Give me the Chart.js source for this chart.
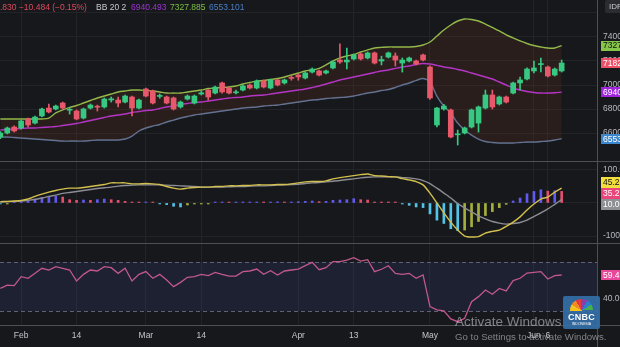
<!DOCTYPE html>
<html>
<head>
<meta charset="utf-8">
<script src="https://cdn.jsdelivr.net/npm/chart.js@4.4.1/dist/chart.umd.min.js"></script>
<style>
  html, body { margin: 0; padding: 0; background: #17181c; overflow: hidden; width: 620px; height: 347px; }
  #wrap { position: relative; width: 620px; height: 347px; overflow: hidden; font-family: "Liberation Sans", Arial, sans-serif; }
  canvas { position: absolute; left: 0; }
  .sep { position: absolute; background: #4e4f54; }
  .hdr { position: absolute; top: 2px; font-size: 8.5px; line-height: 10px; white-space: nowrap; }
  .wm1 { position: absolute; left: 455px; top: 314px; font-size: 13.5px; color: rgba(215,215,220,0.55); white-space: nowrap; }
  .wm2 { position: absolute; left: 455px; top: 331px; font-size: 9.6px; color: rgba(215,215,220,0.55); white-space: nowrap; }
  #logo { position: absolute; left: 563px; top: 296px; width: 37px; height: 33px; background: rgba(52,112,170,0.9); border-radius: 2px; overflow: hidden; }
  #logo .pea { position: absolute; left: 7px; top: 3px; width: 23px; height: 23px; border-radius: 50%;
    background: conic-gradient(from -90deg, #f6c21c 0deg 30deg, #f08a24 30deg 60deg, #e23b3b 60deg 90deg, #8a3fa8 90deg 120deg, #2b7fd1 120deg 150deg, #48b04a 150deg 180deg, transparent 180deg); }
  #logo .t1 { position: absolute; left: 0; width: 37px; top: 16px; text-align: center; font-weight: bold; font-size: 9px; color: #fff; letter-spacing: 0.2px; }
  #logo .t2 { position: absolute; left: 0; width: 37px; top: 26px; text-align: center; font-size: 3.5px; color: #fff; }
  #idbox { position: absolute; left: 605px; top: 0px; width: 24px; height: 13px; background: #2b2c31; border-radius: 2px; color: #c9cad0; font-size: 8px; line-height: 13px; padding-left: 4px; }
</style>
</head>
<body>
<div id="wrap">
  <canvas id="cMain" width="680" height="161" style="top:0px"></canvas>
  <canvas id="cMacd" width="680" height="81" style="top:162px"></canvas>
  <canvas id="cRsi" width="680" height="103" style="top:244px"></canvas>

  <div class="sep" style="left:0;top:161px;width:620px;height:1px"></div>
  <div class="sep" style="left:0;top:243px;width:620px;height:1px"></div>
  <div class="sep" style="left:0;top:325px;width:620px;height:1px"></div>
  <div class="sep" style="left:597px;top:0;width:1px;height:347px"></div>

  <div class="hdr" id="hClose" style="color:#dc4a5c"></div>
  <div class="hdr" style="left:96px;color:#c8c9cc">BB 20 2</div>
  <div class="hdr" id="hBasis" style="left:131px;color:#9d33cf"></div>
  <div class="hdr" id="hUpper" style="left:170px;color:#7dbf44"></div>
  <div class="hdr" id="hLower" style="left:209px;color:#4b7fc6"></div>
  <div id="idbox">IDR</div>

  <div id="logo"><div class="pea"></div><div class="t1">CNBC</div><div class="t2">INDONESIA</div></div>
  <div class="wm1">Activate Windows</div>
  <div class="wm2">Go to Settings to activate Windows.</div>
</div>

<script>
// ---- Trading sessions ----
const dates = [
  '2022-01-27','2022-01-28','2022-01-31',
  '2022-02-02','2022-02-03','2022-02-04','2022-02-07','2022-02-08','2022-02-09','2022-02-10','2022-02-11',
  '2022-02-14','2022-02-15','2022-02-16','2022-02-17','2022-02-18','2022-02-21','2022-02-22','2022-02-23','2022-02-24','2022-02-25',
  '2022-03-01','2022-03-02','2022-03-04','2022-03-07','2022-03-08','2022-03-09','2022-03-10','2022-03-11',
  '2022-03-14','2022-03-15','2022-03-16','2022-03-17','2022-03-18','2022-03-21','2022-03-22','2022-03-23','2022-03-24','2022-03-25',
  '2022-03-28','2022-03-29','2022-03-30','2022-03-31',
  '2022-04-01','2022-04-04','2022-04-05','2022-04-06','2022-04-07','2022-04-08','2022-04-11','2022-04-12','2022-04-13','2022-04-14',
  '2022-04-18','2022-04-19','2022-04-20','2022-04-21','2022-04-22','2022-04-25','2022-04-26','2022-04-27','2022-04-28',
  '2022-05-09','2022-05-10','2022-05-11','2022-05-12','2022-05-13','2022-05-17','2022-05-18','2022-05-19','2022-05-20',
  '2022-05-23','2022-05-24','2022-05-25','2022-05-27','2022-05-30','2022-05-31',
  '2022-06-02','2022-06-03','2022-06-06','2022-06-07','2022-06-08'
];

// ---- Price candles ----
const openPx  = [6567,6600,6650,6642,6717,6683,6742,6808,6800,6850,6790,6783,6725,6808,6820,6817,6875,6875,6858,6900,6808,
                 6967,6950,6905,6900,6892,6817,6883,6850,6925,6958,6933,7017,6975,6935,6958,7000,6975,7033,6975,7042,7017,7060,
                 7083,7058,7108,7117,7100,7142,7208,7192,7217,7258,7225,7267,7200,7233,7242,7183,7200,7200,7250,
                 7150,6667,6800,6792,6585,6600,6650,6683,6808,6917,6842,6900,6933,7017,7050,7117,7170,7150,7083,7117];
const highPx  = [6612,6650,6660,6708,6725,6742,6808,6842,6833,6858,6808,6792,6808,6842,6833,6892,6900,6900,6917,6908,6883,
                 6975,6958,6925,6908,6900,6867,6917,6917,6950,6962,6992,7025,6983,6958,7000,7008,7042,7042,7050,7050,7050,7075,
                 7092,7108,7142,7125,7125,7200,7342,7308,7258,7267,7275,7275,7240,7275,7267,7225,7233,7208,7258,
                 7160,6815,6840,6800,6625,6650,6800,6825,6958,6958,6908,6908,7025,7067,7142,7200,7225,7158,7142,7208];
const lowPx   = [6552,6592,6608,6633,6650,6675,6735,6767,6792,6800,6758,6710,6717,6800,6783,6808,6858,6817,6850,6742,6800,
                 6900,6842,6890,6842,6792,6808,6875,6842,6917,6875,6925,6933,6925,6925,6950,6967,6967,6975,6967,6992,7008,7040,
                 7040,7050,7100,7075,7092,7133,7180,7133,7208,7208,7217,7175,7167,7225,7158,7108,7192,7167,7200,
                 6880,6650,6790,6560,6500,6592,6642,6608,6800,6800,6833,6850,6925,6958,7042,7100,7108,7067,7075,7108];
const closePx = [6600,6642,6617,6700,6667,6733,6800,6775,6825,6808,6795,6717,6800,6833,6815,6883,6885,6850,6908,6808,6875,
                 6908,6850,6912,6850,6800,6858,6908,6908,6935,6900,6983,6942,6933,6942,6992,6975,7033,6983,7042,7000,7042,7055,
                 7067,7100,7133,7083,7117,7192,7192,7208,7250,7217,7267,7183,7212,7267,7208,7208,7225,7175,7208,
                 6892,6808,6825,6567,6590,6642,6792,6817,6917,6817,6900,6858,7017,7042,7133,7142,7175,7075,7133,7182.83];

// ---- Bollinger Bands (20, 2) ----
const bbUpper = [6717,6717,6717,6717,6717,6717,6717,6725,6767,6792,6813,6829,6850,6871,6892,6908,6925,6942,6950,6958,6958,
                 6954,6950,6942,6933,6933,6933,6942,6950,6958,6971,6975,6979,6983,6992,7008,7021,7033,7038,7046,7054,7067,7083,
                 7100,7117,7125,7138,7167,7200,7225,7242,7254,7275,7292,7308,7313,7317,7317,7317,7317,7321,7333,
                 7358,7408,7458,7500,7533,7550,7546,7533,7508,7479,7450,7417,7392,7367,7346,7329,7317,7308,7308,7327.885];
const bbBasis = [6625,6629,6633,6638,6642,6642,6646,6650,6654,6663,6671,6679,6692,6704,6717,6729,6742,6750,6758,6771,6779,
                 6788,6792,6804,6817,6825,6838,6846,6854,6858,6867,6875,6883,6892,6896,6900,6908,6913,6917,6925,6933,6942,6950,
                 6958,6967,6979,6992,7008,7025,7042,7054,7067,7079,7092,7104,7117,7125,7138,7150,7158,7171,7179,
                 7175,7163,7150,7142,7129,7117,7100,7083,7067,7050,7025,7000,6975,6958,6946,6938,6933,6933,6935,6940.493];
const bbLower = [6567,6567,6563,6558,6554,6550,6546,6542,6538,6533,6533,6533,6533,6538,6542,6542,6542,6542,6550,6575,6617,
                 6642,6658,6671,6692,6708,6725,6738,6750,6758,6767,6775,6783,6792,6800,6808,6813,6817,6825,6829,6833,6842,6850,
                 6858,6867,6875,6879,6888,6892,6896,6900,6908,6921,6933,6942,6954,6963,6979,7000,7017,7038,7054,
                 7025,6908,6825,6767,6683,6625,6583,6550,6529,6521,6517,6517,6517,6521,6525,6525,6529,6533,6542,6553.101];

// ---- MACD ----
const macdLine   = [3.9,5,6,7.5,12,20,27,33,38,42,45,45,47,50,53,56,61,61,61,58,58,
                    59,58,56,50,45,42,45,47,48,48,50,50,52,52,53,53,55,55,55,56,56,58,
                    61,64,65,65,67,73,77,80,83,86,88,83,82,80,79,74,70,65,55,
                    30,0,-30,-58,-82,-100,-103,-102,-91,-86,-82,-71,-58,-42,-21,-3,12,18,33,45.22];
const signalLine = [3,3.6,4.5,6,8,10.6,15,20,24,29,32,35,38,41,44,46,48,51,53,54,55,
                    55,55,55,54,53,52,51,50,48,48,48,48,49,50,50,51,52,52,53,54,55,56,
                    57,59,61,62,64,66,68,71,73,76,78,79,79,79,79,77,76,73,68,
                    59,45,30,15,-2,-15,-27,-39,-48,-56,-61,-64,-62,-59,-52,-41,-30,-18,-4,10.00];
const macdHist   = [-3,-2,2,4,7,12,16,20,20.5,18,10,8,9,8,10,12,10,8,5,3,2,
                    2.5,1.5,-2,-5,-10,-12,-6,-3,-2,-1,1,1.5,1,1.5,2,2.5,3,2,3,3.5,2.5,3,
                    4,5,6,4,5,8,9,10,13,10,9,3,2,1,0.5,-3,-7,-12,-14,
                    -33,-52,-62,-78,-84,-82,-72,-56,-38,-26,-14,-4,6,15,28,35,40,36,37,35.22];

// ---- RSI (14) ----
const rsiLine = [48.6,51.3,50.8,58.1,56.8,60.8,64.9,63.5,66.2,64.9,63.5,54.6,60,63.5,62.7,66.2,65.4,60.8,64.9,54.6,60,
                 62.2,56.8,60,55.4,50,53.5,57.6,58.1,60,58.9,61.6,60,58.6,58.6,62.2,62.7,64.3,60,62.9,59.5,62.7,63.5,
                 64.3,67,69.7,63.8,65.4,70.3,70.3,71.6,73.5,70.8,71.9,62.2,64.1,67,60.8,60,60.8,56.8,59.5,
                 33.8,31.1,30.3,23.8,21.6,24.3,37.8,41.9,47.3,43.8,48.6,46.5,54.9,56.8,61,61.6,62.2,56.2,58.9,59.46];

// ---- Time axis labels ----
const tickDates = ['2022-02-02','2022-02-14','2022-03-01','2022-03-14','2022-04-01','2022-04-13','2022-05-09','2022-06-02','2022-06-06'];
const tickText  = ['Feb','14','Mar','14','Apr','13','May','Jun','6'];

// ---- Header legend ----
const lastChange = '\u221210.484 (\u22120.15%)';

// ---------------------------------------------------------------
const N = dates.length;
const LAST = N - 1;
const tickIdx = tickDates.map(d => dates.indexOf(d));
const X_MIN = -0.05, X_MAX = 86.1;

const UP = '#37c882', DOWN = '#e8586b';
const GRID = '#232428';
const AXIS_TXT = '#b6b8be';
const FONT = '"Liberation Sans", Arial, sans-serif';

Chart.defaults.font.family = FONT;
Chart.defaults.animation = false;

function xScale(showLabels) {
  return {
    type: 'linear', min: X_MIN, max: X_MAX, display: true, offset: false,
    border: { display: false },
    grid: { color: GRID, lineWidth: 1, drawTicks: false, offset: false },
    ticks: {
      display: showLabels, autoSkip: false, maxRotation: 0, padding: 6,
      color: '#c3c5cb', font: { size: 8.5 },
      callback: (v, i) => tickText[i]
    },
    afterBuildTicks: s => { s.ticks = tickIdx.map(v => ({ value: v })); },
    afterFit: s => { s.height = showLabels ? 22 : 0; s.paddingLeft = 0; s.paddingRight = 0; }
  };
}
function yScale(min, max, ticks, fmt, showGrid) {
  return {
    type: 'linear', position: 'right', min, max,
    border: { display: false },
    grid: { display: showGrid, color: GRID, lineWidth: 1, drawTicks: false },
    ticks: { color: AXIS_TXT, font: { size: 8.5 }, padding: 6, callback: fmt },
    afterBuildTicks: s => { s.ticks = ticks.map(v => ({ value: v })); },
    afterFit: s => { s.width = 83; s.paddingTop = 0; s.paddingBottom = 0; }
  };
}

// last-value boxes on the price scale, spread apart when they collide
function valueBoxes(getItems, h) {
  return {
    id: 'valueBoxes',
    afterDraw(chart) {
      const ys = chart.scales.y, ctx = chart.ctx;
      const items = getItems().map(it => Object.assign({}, it, { y: ys.getPixelForValue(it.value) }));
      items.sort((a, b) => a.y - b.y);
      let groups = items.map(it => ({ items: [it] }));
      const center = g => g.items.reduce((s, it) => s + it.y, 0) / g.items.length;
      let changed = true;
      while (changed) {
        changed = false;
        for (let i = 0; i < groups.length - 1; i++) {
          const a = groups[i], b = groups[i + 1];
          if (center(a) + a.items.length * h / 2 > center(b) - b.items.length * h / 2) {
            groups.splice(i, 2, { items: a.items.concat(b.items) });
            changed = true; break;
          }
        }
      }
      ctx.save();
      ctx.font = '8.5px ' + FONT;
      ctx.textBaseline = 'middle';
      ctx.textAlign = 'left';
      groups.forEach(g => {
        const c = center(g), top = c - g.items.length * h / 2;
        g.items.forEach((it, k) => {
          const py = top + h * (k + 0.5);
          ctx.fillStyle = it.bg;
          ctx.fillRect(chart.chartArea.right + 4, Math.round(py - h / 2), 80, h);
          ctx.fillStyle = it.fg;
          ctx.fillText(it.text, chart.chartArea.right + 6, py + 0.5);
        });
      });
      ctx.restore();
    }
  };
}

const pts = arr => arr.map((v, i) => ({ x: i, y: v }));
const candleColor = closePx.map((c, i) => c >= openPx[i] ? UP : DOWN);

// ---------------- Price pane ----------------
new Chart(document.getElementById('cMain'), {
  type: 'bar',
  data: {
    datasets: [
      { type: 'bar', label: 'body', order: 0, grouped: false, barThickness: 5, minBarLength: 1,
        data: openPx.map((o, i) => ({ x: i, y: [o, closePx[i]] })), backgroundColor: candleColor, borderWidth: 0 },
      { type: 'bar', label: 'wick', order: 1, grouped: false, barThickness: 1,
        data: lowPx.map((l, i) => ({ x: i, y: [l, highPx[i]] })), backgroundColor: candleColor, borderWidth: 0 },
      { type: 'line', label: 'basis', order: 2, data: pts(bbBasis), borderColor: '#b536c6', borderWidth: 1.4,
        pointRadius: 0, tension: 0.3, fill: false },
      { type: 'line', label: 'upper', order: 3, data: pts(bbUpper), borderColor: '#93b84a', borderWidth: 1.4,
        pointRadius: 0, tension: 0.3, fill: 4, backgroundColor: 'rgba(119,55,34,0.2)' },
      { type: 'line', label: 'lower', order: 4, data: pts(bbLower), borderColor: '#62789c', borderWidth: 1.4,
        pointRadius: 0, tension: 0.3, fill: false }
    ]
  },
  options: {
    responsive: false, devicePixelRatio: 1, animation: false,
    layout: { padding: 0 },
    plugins: { legend: { display: false }, tooltip: { enabled: false } },
    scales: {
      x: xScale(false),
      y: yScale(6367, 7708, [6600, 6800, 7000, 7200, 7400, 7600], v => v === 7600 ? '' : v.toFixed(3), true)
    }
  },
  plugins: [valueBoxes(() => [
    { value: bbUpper[LAST], text: bbUpper[LAST].toFixed(3), bg: '#86c64a', fg: '#111' },
    { value: closePx[LAST], text: closePx[LAST].toFixed(3), bg: '#ee5068', fg: '#fff' },
    { value: bbBasis[LAST], text: bbBasis[LAST].toFixed(3), bg: '#a024de', fg: '#fff' },
    { value: bbLower[LAST], text: bbLower[LAST].toFixed(3), bg: '#3b86cc', fg: '#fff' }
  ], 10)]
});

// ---------------- MACD pane ----------------
const histColor = macdHist.map((v, i) => {
  const p = i ? macdHist[i - 1] : 0;
  if (v >= 0) return v >= p ? '#6259ef' : '#e0506c';
  return v < p ? '#52c4e6' : '#a5b03c';
});
new Chart(document.getElementById('cMacd'), {
  type: 'bar',
  data: {
    datasets: [
      { type: 'line', label: 'macd', order: 0, data: pts(macdLine), borderColor: '#d2bf4e', borderWidth: 1.4,
        pointRadius: 0, tension: 0.2 },
      { type: 'line', label: 'signal', order: 1, data: pts(signalLine), borderColor: '#8c8d93', borderWidth: 1.4,
        pointRadius: 0, tension: 0.2 },
      { type: 'bar', label: 'hist', order: 2, grouped: false, barThickness: 2, minBarLength: 1,
        data: pts(macdHist), backgroundColor: histColor, borderWidth: 0 }
    ]
  },
  options: {
    responsive: false, devicePixelRatio: 1, animation: false,
    layout: { padding: 0 },
    plugins: { legend: { display: false }, tooltip: { enabled: false } },
    scales: {
      x: xScale(false),
      y: yScale(-121.2, 124.2, [-100, 0, 100], v => v.toFixed(2), true)
    }
  },
  plugins: [valueBoxes(() => [
    { value: macdLine[LAST], text: macdLine[LAST].toFixed(2), bg: '#f2de3c', fg: '#111' },
    { value: macdHist[LAST], text: macdHist[LAST].toFixed(2), bg: '#e8467a', fg: '#fff' },
    { value: signalLine[LAST], text: signalLine[LAST].toFixed(2), bg: '#8f9094', fg: '#fff' }
  ], 11)]
});

// ---------------- RSI pane ----------------
const rsiBand = {
  id: 'rsiBand',
  beforeDatasetsDraw(chart) {
    const { ctx, chartArea: a, scales: { y } } = chart;
    const y70 = y.getPixelForValue(70), y30 = y.getPixelForValue(30);
    ctx.save();
    ctx.fillStyle = 'rgba(64,85,176,0.15)';
    ctx.fillRect(a.left, y70, a.right - a.left, y30 - y70);
    ctx.strokeStyle = '#5e6273';
    ctx.lineWidth = 1;
    ctx.setLineDash([4, 3]);
    [y70, y30].forEach(py => {
      ctx.beginPath(); ctx.moveTo(a.left, Math.round(py) + 0.5); ctx.lineTo(a.right, Math.round(py) + 0.5); ctx.stroke();
    });
    ctx.restore();
  }
};
new Chart(document.getElementById('cRsi'), {
  type: 'line',
  data: {
    datasets: [
      { label: 'rsi', data: pts(rsiLine), borderColor: '#c2588f', borderWidth: 1.3, pointRadius: 0, tension: 0 }
    ]
  },
  options: {
    responsive: false, devicePixelRatio: 1, animation: false,
    layout: { padding: 0 },
    plugins: { legend: { display: false }, tooltip: { enabled: false } },
    scales: {
      x: xScale(true),
      y: yScale(18.9, 84.6, [40, 60], v => v.toFixed(2), false)
    }
  },
  plugins: [rsiBand, valueBoxes(() => [
    { value: rsiLine[LAST], text: rsiLine[LAST].toFixed(2), bg: '#e8489a', fg: '#fff' }
  ], 10)]
});

// ---------------- Header legend ----------------
(function () {
  const hc = document.getElementById('hClose');
  const closeStr = closePx[LAST].toFixed(3);
  const cut = closeStr.indexOf('.');
  const lead = document.createElement('span');
  lead.textContent = 'C' + closeStr.slice(0, cut);
  hc.appendChild(lead);
  hc.appendChild(document.createTextNode(closeStr.slice(cut) + ' ' + lastChange));
  hc.style.left = (-lead.getBoundingClientRect().width) + 'px';
  document.getElementById('hBasis').textContent = bbBasis[LAST].toFixed(3);
  document.getElementById('hUpper').textContent = bbUpper[LAST].toFixed(3);
  document.getElementById('hLower').textContent = bbLower[LAST].toFixed(3);
})();
</script>
</body>
</html>
